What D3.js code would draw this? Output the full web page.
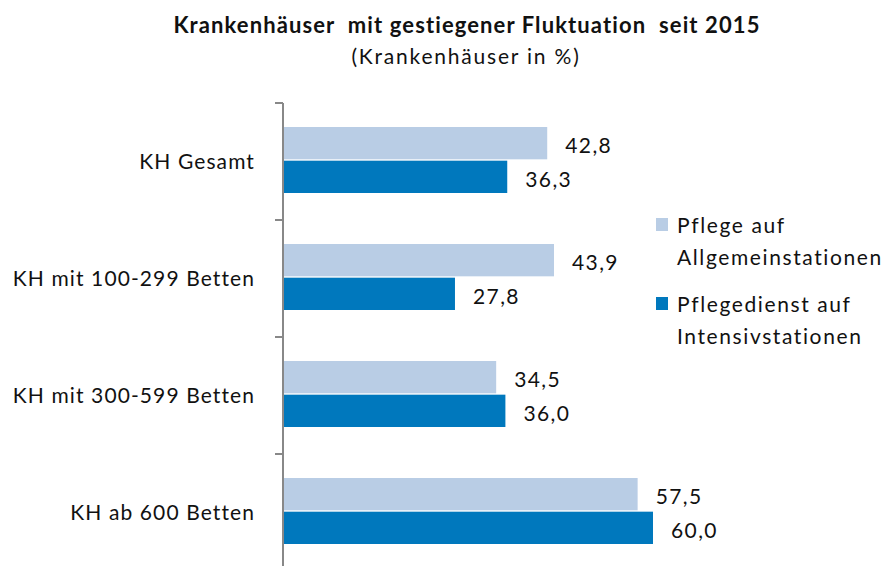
<!DOCTYPE html>
<html>
<head>
<meta charset="utf-8">
<script src="https://cdn.jsdelivr.net/npm/d3@7"></script>
<style>
  body { margin: 0; background: #fff; }
  svg { font-family: Lato, "Open Sans", sans-serif; }
  .title { white-space: pre; }
</style>
</head>
<body>
<div id="chart"></div>
<script>
/* Horizontal grouped bar chart */

const width = 886,
    height = 566,
    margin = ({ top: 103, right: 233, bottom: 0, left: 284 });

const categories = ["KH Gesamt", "KH mit 100-299 Betten", "KH mit 300-599 Betten", "KH ab 600 Betten"];
const seriesNames = ["Pflege auf Allgemeinstationen", "Pflegedienst auf Intensivstationen"];
const legendLines = [["Pflege auf", "Allgemeinstationen"], ["Pflegedienst auf", "Intensivstationen"]];
const allgemein = [42.8, 43.9, 34.5, 57.5];
const intensiv = [36.3, 27.8, 36.0, 60.0];
const colors = ["#b9cde5", "#0078bd"];

const svg = d3.select("#chart")
    .append("svg")
    .attr("width", width)
    .attr("height", height)
    .attr("viewBox", [0, 0, width, height]);

const data = categories.map((c, i) => ({ cat: c, values: [allgemein[i], intensiv[i]] }));

const locale = d3.formatLocale({ decimal: ",", thousands: ".", grouping: [3], currency: ["", " €"] });
const fmt = locale.format(".1f");

/* Scales */
let x = d3.scaleLinear()
    .domain([0, 60])
    .range([margin.left, margin.left + 369]);

let y = d3.scaleBand()
    .domain(categories)
    .range([margin.top, margin.top + 117 * categories.length]);

let ySub = d3.scaleBand()
    .domain([0, 1])
    .range([24, 90])
    .paddingInner(0.04);

/* Title */
svg.append("text")
    .attr("class", "title")
    .attr("x", 467)
    .attr("y", 33)
    .attr("text-anchor", "middle")
    .attr("font-size", 22)
    .attr("font-weight", "bold")
    .attr("letter-spacing", "1.1px")
    .attr("fill", "#111")
    .text("Krankenhäuser  mit gestiegener Fluktuation  seit 2015");

svg.append("text")
    .attr("x", 466)
    .attr("y", 64)
    .attr("text-anchor", "middle")
    .attr("font-size", 21)
    .attr("letter-spacing", "1.8px")
    .attr("fill", "#111")
    .text("(Krankenhäuser in %)");

/* Bars */
const groups = svg.selectAll("g.cat")
    .data(data)
    .join("g")
    .attr("class", "cat")
    .attr("transform", d => `translate(0,${y(d.cat)})`);

groups.selectAll("rect")
    .data(d => d.values)
    .join("rect")
    .attr("x", x(0))
    .attr("y", (d, i) => ySub(i))
    .attr("width", d => x(d) - x(0))
    .attr("height", ySub.bandwidth())
    .attr("fill", (d, i) => colors[i]);

groups.selectAll("text.val")
    .data(d => d.values)
    .join("text")
    .attr("class", "val")
    .attr("x", d => x(d) + 18)
    .attr("y", (d, i) => ySub(i) + ySub.bandwidth() / 2 + 10)
    .attr("font-size", 21)
    .attr("letter-spacing", "1.4px")
    .attr("fill", "#111")
    .text(d => fmt(d));

/* Category axis */
svg.append("line")
    .attr("x1", margin.left - 1)
    .attr("x2", margin.left - 1)
    .attr("y1", y.range()[0])
    .attr("y2", y.range()[1])
    .attr("stroke", "#888")
    .attr("stroke-width", 2);

svg.selectAll("line.tick")
    .data(categories)
    .join("line")
    .attr("class", "tick")
    .attr("x1", margin.left - 9)
    .attr("x2", margin.left - 1)
    .attr("y1", d => y(d))
    .attr("y2", d => y(d))
    .attr("stroke", "#888")
    .attr("stroke-width", 2);

svg.selectAll("text.cat")
    .data(categories)
    .join("text")
    .attr("class", "cat")
    .attr("x", 255)
    .attr("y", d => y(d) + y.bandwidth() / 2 + 7)
    .attr("text-anchor", "end")
    .attr("font-size", 21)
    .attr("letter-spacing", "1.1px")
    .attr("fill", "#111")
    .text(d => d);

/* Legend */
const legend = svg.selectAll("g.legend")
    .data(seriesNames)
    .join("g")
    .attr("class", "legend")
    .attr("transform", (d, i) => `translate(656,${218 + i * 79})`);

legend.append("rect")
    .attr("width", 12)
    .attr("height", 13)
    .attr("fill", (d, i) => colors[i]);

legend.append("text")
    .attr("x", 21)
    .attr("y", 15)
    .attr("font-size", 21)
    .attr("letter-spacing", "1.6px")
    .attr("fill", "#111")
    .selectAll("tspan")
    .data((d, i) => legendLines[i])
    .join("tspan")
    .attr("x", 21)
    .attr("dy", (d, j) => j === 0 ? 0 : 32)
    .text(d => d);
</script>
</body>
</html>
